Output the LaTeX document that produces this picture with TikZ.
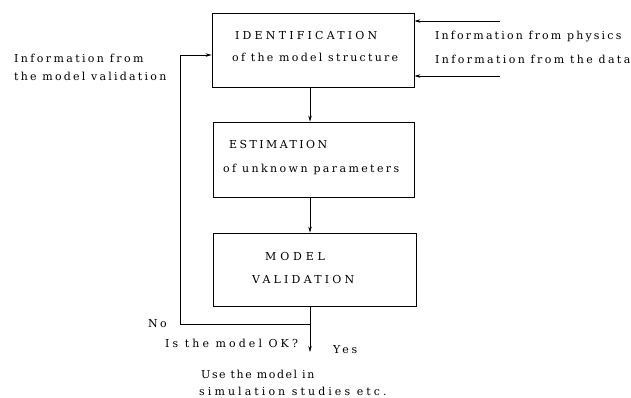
\documentclass[tikz,border=0pt]{standalone}
\usepackage{fontspec}
\setmainfont{DejaVu Serif}
\usetikzlibrary{arrows.meta}
\begin{document}
\begin{tikzpicture}[x=1pt,y=-1pt,
  blk/.style={draw,line width=0.8pt,inner sep=0pt},
  lbl/.style={anchor=base west,inner sep=0pt,font=\fontsize{11}{13}\selectfont\addfontfeature{LetterSpace=#1}},
  lbl/.default=20,
  conn/.style={line width=0.7pt},
  arr/.style={line width=0.7pt,-{Stealth[length=6pt,width=3.5pt]}}]
\useasboundingbox (0,0) rectangle (631,397);
% boxes
\node[blk,minimum width=202pt,minimum height=74pt] (b1) at (313,50) {};
\node[blk,minimum width=201pt,minimum height=75pt] (b2) at (313.5,159.5) {};
\node[blk,minimum width=203pt,minimum height=73pt] (b3) at (314.5,269.5) {};
% box texts
\node[lbl=29] (t1a) at (235,39) {IDENTIFICATION};
\node[lbl=20.6] (t1b) at (232,61) {of the model structure};
\node[lbl=22] (t2a) at (229,148) {ESTIMATION};
\node[lbl=21.8] (t2b) at (223,172) {of unknown parameters};
\node[lbl=35] (t3a) at (265,260) {MODEL};
\node[lbl=29] (t3b) at (252,283) {VALIDATION};
% input texts
\node[lbl=19.7] (p1) at (435,39) {Information from physics};
\node[lbl=21.5] (p2) at (435,63) {Information from the data};
\node[lbl=21.7] (v1) at (14,62) {Information from};
\node[lbl=20.3] (v2) at (14,80) {the model validation};
\node[lbl=20] (no) at (148,327) {No};
\node[lbl=28] (ok) at (165,347) {Is the model OK?};
\node[lbl=25] (yes) at (333,353) {Yes};
\node[lbl=14] (u1) at (201,378) {Use the model in};
\node[lbl=28] (u2) at (199,395) {simulation studies etc.};
% connector coordinates
\coordinate (in1) at (500,21);
\coordinate (in2) at (500,76);
\coordinate (b1in1) at (b1.east |- in1);
\coordinate (b1in2) at (b1.east |- in2);
\coordinate (c12a) at (310,0 |- b1.south);
\coordinate (c12b) at (310,0 |- b2.north);
\coordinate (c23a) at (310,0 |- b3.north);
\coordinate (c23b) at (310,0 |- b2.south);
\coordinate (c3s) at (310,0 |- b3.south);
\coordinate (split) at (310,324);
\coordinate (loopbl) at (180,324);
\coordinate (looptl) at (180,55);
\coordinate (b1w) at (b1.west |- looptl);
\coordinate (outend) at (310,352);
% connectors
\draw[arr] (in1) -- (b1in1);
\draw[arr] (in2) -- (b1in2);
\draw[arr] (c12a) -- (c12b);
\draw[arr] (c23b) -- (c23a);
\draw[conn] (c3s) -- (split);
\draw[arr] (split) -- (loopbl) -- (looptl) -- (b1w);
\draw[arr] (split) -- (outend);
\end{tikzpicture}
\end{document}
